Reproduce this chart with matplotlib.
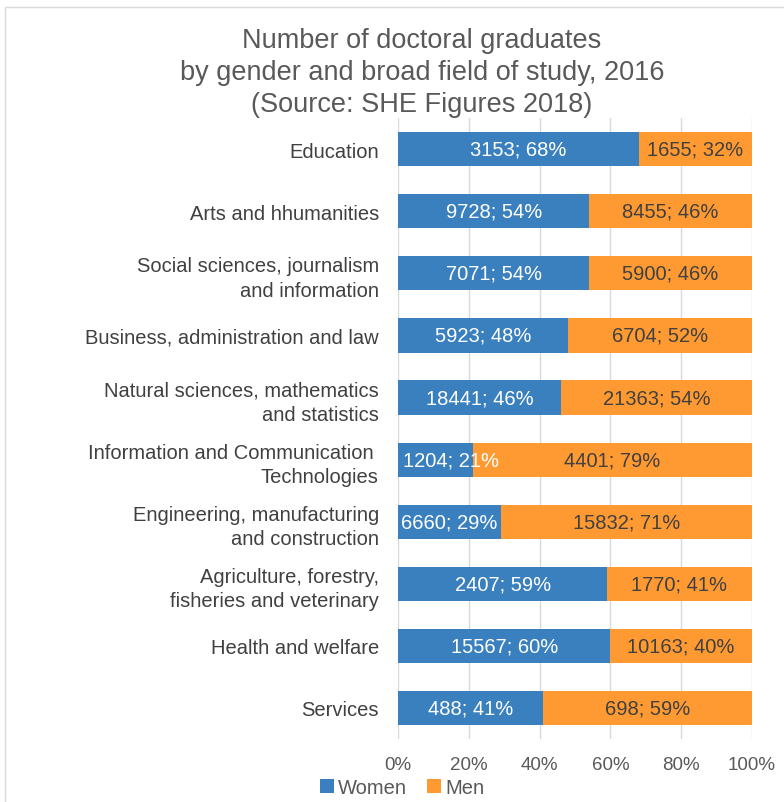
import matplotlib.pyplot as plt
from matplotlib.patches import Rectangle

plt.rcParams['font.family'] = ['Liberation Sans', 'DejaVu Sans']

FIELDS = [
    "Education",
    "Arts and hhumanities",
    "Social sciences, journalism\nand information",
    "Business, administration and law",
    "Natural sciences, mathematics\nand statistics",
    "Information and Communication \nTechnologies",
    "Engineering, manufacturing\nand construction",
    "Agriculture, forestry,\nfisheries and veterinary",
    "Health and welfare",
    "Services",
]
WOMEN_N = [3153, 9728, 7071, 5923, 18441, 1204, 6660, 2407, 15567, 488]
WOMEN_PCT = [68, 54, 54, 48, 46, 21, 29, 59, 60, 41]
MEN_N = [1655, 8455, 5900, 6704, 21363, 4401, 15832, 1770, 10163, 698]
MEN_PCT = [32, 46, 46, 52, 54, 79, 71, 41, 40, 59]
XTICKS = [0, 20, 40, 60, 80, 100]

BLUE = "#3A80BE"
ORANGE = "#FF9A33"
GREY = "#595959"
FS = 14.5

fig = plt.figure(figsize=(7.84, 8.03), dpi=100)
fig.patches.append(Rectangle((0.006, -0.01), 1.0, 1.0, transform=fig.transFigure,
                             fill=False, edgecolor="#d9d9d9", linewidth=1))
ax = fig.add_axes([0.508, 0.0785, 0.451, 0.773])

y = list(range(len(FIELDS)))
ax.barh(y, WOMEN_PCT, height=0.55, color=BLUE, label="Women", zorder=3)
ax.barh(y, MEN_PCT, left=WOMEN_PCT, height=0.55, color=ORANGE, label="Men", zorder=3)

for i in y:
    # narrow segment: label starts at the bar's left edge, like the original
    if WOMEN_PCT[i] < 25:
        ax.text(1.2, i, f"{WOMEN_N[i]}; {WOMEN_PCT[i]}%", ha="left", va="center",
                color="white", fontsize=FS, zorder=4)
    else:
        ax.text(WOMEN_PCT[i] / 2, i, f"{WOMEN_N[i]}; {WOMEN_PCT[i]}%", ha="center",
                va="center", color="white", fontsize=FS, zorder=4)
    ax.text(WOMEN_PCT[i] + MEN_PCT[i] / 2, i, f"{MEN_N[i]}; {MEN_PCT[i]}%", ha="center",
            va="center", color="#404040", fontsize=FS, zorder=4)

ax.set_ylim(len(FIELDS) - 0.5, -0.5)
ax.set_xlim(0, 100)
ax.set_yticks(y)
ax.set_yticklabels(FIELDS, fontsize=FS, color="#404040", multialignment="right",
                   linespacing=1.35)
ax.set_xticks(XTICKS)
ax.set_xticklabels([f"{t}%" for t in XTICKS], fontsize=13.5, color=GREY)
ax.tick_params(axis="y", length=0, pad=14)
ax.tick_params(axis="x", length=0, pad=12)
ax.grid(axis="x", color="#d9d9d9", linewidth=1, zorder=0)
for s in ax.spines.values():
    s.set_visible(False)

fig.text(0.538, 0.909, "Number of doctoral graduates\nby gender and broad field of study, 2016\n(Source: SHE Figures 2018)",
         ha="center", va="center", fontsize=19.5, color=GREY, linespacing=1.28)

fig.legend(loc="lower center", bbox_to_anchor=(0.513, -0.016), ncol=2, frameon=False,
           fontsize=FS, handlelength=0.7, handleheight=0.7, handletextpad=0.2,
           columnspacing=1.0, labelcolor=GREY)

fig.savefig("out.png", dpi=100)
